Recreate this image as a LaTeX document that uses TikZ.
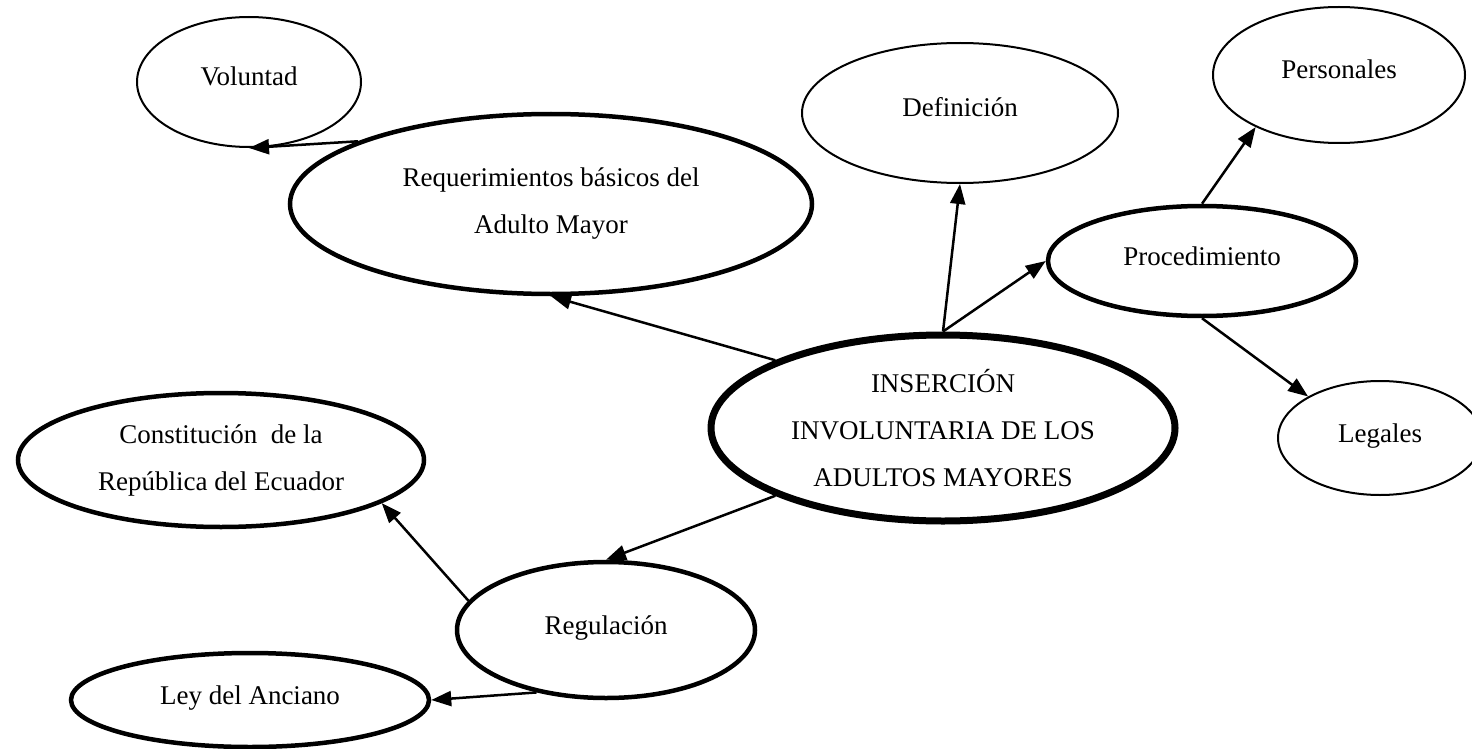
\documentclass[tikz,border=0pt]{standalone}
\usepackage{fontspec}
\setmainfont{Liberation Serif}
\usetikzlibrary{shapes.geometric,arrows.meta}
\begin{document}
\begin{tikzpicture}[x=1pt,y=-1pt,
  idea/.style={ellipse,draw,line width=2pt,inner sep=0pt,align=center,font=\fontsize{27}{47}\selectfont},
  bold/.style={idea,line width=4.5pt},
  oneline/.style={text height=18pt,text depth=10pt},
  arr/.style={-{Triangle[length=20pt,width=15pt]},line width=2.5pt}]
\useasboundingbox (0,0) rectangle (1472,749);
% centre
\node[bold,line width=7pt,minimum width=464pt,minimum height=186pt] (ins) at (943,428) {INSERCIÓN\\INVOLUNTARIA DE LOS\\ADULTOS MAYORES};
% upper branch
\node[bold,minimum width=522pt,minimum height=180pt] (req) at (551,204) {Requerimientos básicos del\\Adulto Mayor};
\node[idea,oneline,minimum width=224pt,minimum height=130pt] (vol) at (249,82) {Voluntad};
\node[idea,oneline,minimum width=316pt,minimum height=140pt] (def) at (960,113) {Definición};
\node[bold,oneline,minimum width=308pt,minimum height=110pt] (proc) at (1202,261) {Procedimiento};
\node[idea,oneline,minimum width=252pt,minimum height=136pt] (pers) at (1339,75) {Personales};
\node[idea,oneline,minimum width=204pt,minimum height=114pt] (leg) at (1380,438) {Legales};
% lower branch
\node[bold,oneline,minimum width=298pt,minimum height=136pt] (reg) at (606,630) {Regulación};
\node[bold,minimum width=406pt,minimum height=134pt] (con) at (221,460) {Constitución\ \ de la\\República del Ecuador};
\node[bold,oneline,minimum width=358pt,minimum height=94pt] (ley) at (250,700) {Ley del Anciano};
% arrows
\draw [arr] (ins.158) -- (req.south);
\draw [arr] (req.162) -- (vol.south);
\draw [arr] (ins.north) -- (def.south);
\draw [arr] (ins.north) -- (proc.west);
\draw [arr] (proc.north) -- (pers.212);
\draw [arr] (proc.south) -- (leg.150);
\draw [arr] (ins.202) -- (reg.north);
\draw [arr] (reg.168) -- (con.345);
\draw [arr] (reg.222) -- (ley.east);
\end{tikzpicture}
\end{document}
